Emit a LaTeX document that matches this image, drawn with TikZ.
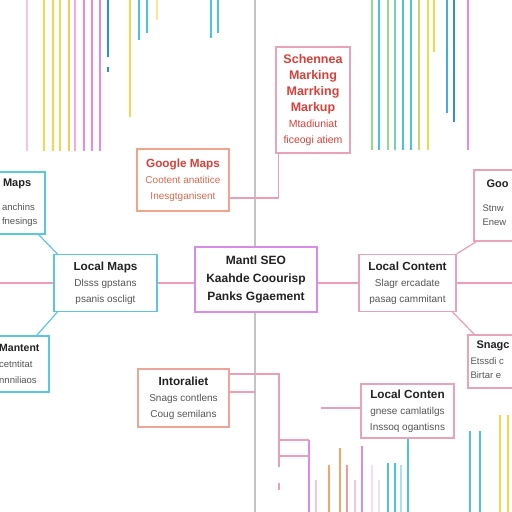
\documentclass[tikz,border=0pt]{standalone}
\usepackage{fontspec}
\setmainfont{Liberation Sans}
\usetikzlibrary{positioning}
\definecolor{mapcyan}{HTML}{5CC6E2}
\definecolor{seopurple}{HTML}{D98BE8}
\definecolor{contentpink}{HTML}{E9A3B9}
\definecolor{googlesalmon}{HTML}{EDA58E}
\definecolor{linkpink}{HTML}{EE9DB6}
\definecolor{titlered}{HTML}{D8403A}
\definecolor{subsalmon}{HTML}{D9694F}
\definecolor{bodygray}{HTML}{555555}
\definecolor{headblack}{HTML}{222222}
\definecolor{axisgray}{HTML}{C4C4C4}
\definecolor{baryellow}{HTML}{F4D54E}
\definecolor{barmagenta}{HTML}{E58AE2}
\definecolor{barcyan}{HTML}{4CC3DE}
\definecolor{barblue}{HTML}{2F8FD6}
\definecolor{bargreen}{HTML}{93D98F}
\definecolor{barorange}{HTML}{F0A766}
\definecolor{barlight}{HTML}{F1C6E4}
\newcommand{\titlefont}{\bfseries\fontsize{11.75}{16}\selectfont\color{headblack}}
\newcommand{\edgetitle}{\bfseries\fontsize{11}{16}\selectfont\color{headblack}}
\newcommand{\bodyfont}{\fontsize{10}{16}\selectfont}

\begin{document}
\begin{tikzpicture}[x=1pt, y=-1pt,
  box/.style={draw, fill=white, line width=1.3pt, inner sep=0pt, align=center, font=\bodyfont, text=bodygray},
  edgetext/.style={inner sep=0pt, align=left, font=\fontsize{9.5}{14}\selectfont, text=bodygray},
  link/.style={linkpink, line width=1.2pt},
  bar/.style={line width=1.8pt}]
  \useasboundingbox (0,0) rectangle (512,512);
  \fill[white] (0,0) rectangle (512,512);
  \clip (0,0) rectangle (512,512);
  % colour bars hanging from the top
  \foreach \x/\ye/\c in {27/151/barlight, 44/151/baryellow, 53/151/baryellow, 60/151/baryellow,
      69/151/baryellow!80!barorange, 75/151/barmagenta!70, 84/151/barmagenta, 92/151/barmagenta,
      100/151/barmagenta, 108/57/barblue, 130/117/baryellow, 139/40/barcyan, 147/33/barcyan,
      157/20/baryellow!60, 211/38/barcyan, 218/33/barcyan}
    \draw[bar, \c] (\x,0) -- (\x,\ye);
  \draw[bar, barblue] (108,67) -- (108,72);
  \foreach \x/\ye/\c in {372/150/bargreen, 379/150/barcyan, 388/150/bargreen, 395/150/bargreen!60!barcyan,
      403/150/barcyan, 411/150/barcyan, 419/150/baryellow!60!bargreen, 428/150/baryellow,
      434/52/baryellow, 447/113/barcyan!60!barblue, 454/122/barblue, 468/150/barmagenta}
    \draw[bar, \c] (\x,0) -- (\x,\ye);
  % colour bars rising from the bottom
  \foreach \x/\ys/\c in {309/440/seopurple, 316/480/barlight, 329/465/barorange, 340/448/barorange,
      347/465/barorange!60!barmagenta, 355/480/barlight, 362/446/seopurple, 372/465/barlight!60,
      379/480/barlight!60, 388/463/barcyan, 395/463/barcyan, 401/465/barcyan!50, 408/439/barcyan,
      470/431/barcyan, 480/431/barcyan, 500/415/baryellow, 508/415/baryellow}
    \draw[bar, \c] (\x,\ys) -- (\x,512);
  % centre axis
  \draw[axisgray, line width=1.2pt] (255,0) -- (255,512);

  % boxes
  \node[box, draw=seopurple, minimum width=122, minimum height=65,
    font=\bfseries\fontsize{12}{18}\selectfont, text=headblack] (seo) at (256,279.5)
    {Mantl SEO\\Kaahde Coourisp\\Panks Ggaement};
  \node[box, draw=mapcyan, minimum width=103, minimum height=57] (localmaps) at (105.5,283)
    {{\titlefont Local Maps}\\Dlsss gpstans\\psanis oscligt};
  \node[box, draw=contentpink, minimum width=97, minimum height=57] (localcontent) at (407.5,283)
    {{\titlefont Local Content}\\Slagr ercadate\\pasag cammitant};
  \node[box, draw=googlesalmon, minimum width=92, minimum height=62, text=subsalmon] (googlemaps) at (183,180)
    {{\titlefont\color{titlered}Google Maps}\\Cootent anatitice\\Inesgtganisent};
  \node[box, draw=contentpink, minimum width=74, minimum height=106,
    font=\bfseries\fontsize{12.5}{16}\selectfont, text=titlered] (schema) at (313,100)
    {Schennea\\Marking\\Marrking\\Markup\\{\mdseries\fontsize{10.5}{16}\selectfont Mtadiuniat}\\{\mdseries\fontsize{10.5}{16}\selectfont ficeogi atiem}};
  \node[box, draw=googlesalmon!80!contentpink, minimum width=91, minimum height=58] (internal) at (183.5,398)
    {{\titlefont Intoraliet}\\Snags contlens\\Coug semilans};
  \node[box, draw=contentpink, minimum width=93, minimum height=54] (localconten) at (407.5,411)
    {{\titlefont Local Conten}\\gnese camlatilgs\\Inssoq ogantisns};
  % boxes cut by the edges
  \node[box, draw=mapcyan, minimum width=100, minimum height=62] (mapsbox) at (-5,203) {};
  \node[edgetext, left=8pt of mapsbox.east] (mapstext) {\hspace*{1pt}{\edgetitle Maps}\\[10pt]anchins\\fnesings};
  \node[box, draw=mapcyan, minimum width=100, minimum height=56] (mantentbox) at (-1,364) {};
  \node[edgetext, left=10pt of mantentbox.east, font=\fontsize{9.5}{16}\selectfont] (mantenttext)
    {{\bfseries\fontsize{10.5}{16}\selectfont\color{headblack}Mantent}\\cetntitat\\nnniliaos};
  \node[box, draw=contentpink, minimum width=100, minimum height=71] (goobox) at (524,205.5) {};
  \node[edgetext, right=9pt of goobox.west, yshift=3pt] (gootext) {\hspace*{4pt}{\edgetitle Goo}\\[10pt]Stnw\\Enew};
  \node[box, draw=contentpink, minimum width=100, minimum height=53] (snagbox) at (518,361.5) {};
  \node[edgetext, right=3pt of snagbox.west, yshift=2pt] (snagtext) {\hspace*{6pt}{\edgetitle Snagc}\\[2pt]Etssdi c\\Birtar e};

  % connectors
  \coordinate (leftend) at (0,283);
  \coordinate (rightend) at (512,283);
  \draw[link] (leftend) -- (localmaps.west);
  \draw[link] (localmaps.east) -- (seo.west |- localmaps.east);
  \draw[link] (seo.east |- localcontent.west) -- (localcontent.west);
  \draw[link] (localcontent.east) -- (rightend);
  \draw[mapcyan, line width=1.2pt] ([xshift=4pt]localmaps.north west) -- ([xshift=-7pt]mapsbox.south east);
  \draw[mapcyan, line width=1.2pt] ([xshift=4pt]localmaps.south west) -- ([xshift=-13pt]mantentbox.north east);
  \draw[link] (localcontent.north east) -- ([xshift=3pt]goobox.south west);
  \draw[link] ([xshift=-4pt]localcontent.south east) -- ([xshift=7pt]snagbox.north west);
  \draw[link] ([yshift=-18pt]googlemaps.east) -| ([xshift=3pt]schema.south west);
  % internal links
  \coordinate (trunk) at (279,374);
  \draw[link] ([yshift=24pt]internal.east) -- (trunk) -- (279,467);
  \draw[link] ([yshift=6pt]internal.east) -- ++(26,0);
  \draw[link] (279,483) -- (279,490);
  \draw[link] (279,440) -- (309,440);
  \draw[link] (279,456) -- (309,456);
  \draw[link] ([yshift=3pt]localconten.west) -- ++(-39,0);
\end{tikzpicture}
\end{document}
